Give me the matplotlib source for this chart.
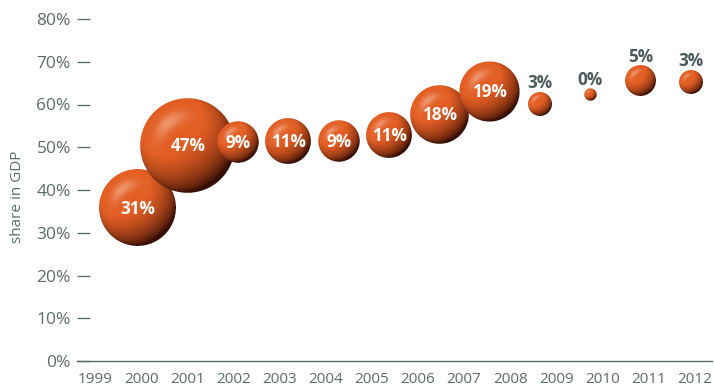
import numpy as np
import matplotlib
matplotlib.use("Agg")
import matplotlib.pyplot as plt
from matplotlib.offsetbox import OffsetImage, AnnotationBbox

# ---- data -------------------------------------------------------------
years = list(range(1999, 2013))                 # category labels on the x axis
growth = [31, 47, 9, 11, 9, 11, 18, 19, 3, 0, 5, 3]          # % shown on each bubble
share = [35.8, 50.5, 51.2, 51.5, 51.5, 52.9, 57.7, 63.1, 60.2, 62.3, 65.5, 65.3]  # share in GDP, %
periods = list(range(len(growth)))               # bubble sequence
yticks = [0, 10, 20, 30, 40, 50, 60, 70, 80]

# ---- style ------------------------------------------------------------
plt.rcParams["font.family"] = ["Open Sans", "DejaVu Sans"]
GREY = "#5d6b6b"
LABEL_DARK = "#4b5a5a"
DPI = 100
PX_PER_SQRT = 6.9          # bubble radius (px) per sqrt(percent)
MIN_VALUE = 0.8            # keeps the 0 % bubble visible


def sphere_image(radius_px, ss=4):
    """RGBA image of a shaded orange sphere with given radius in pixels."""
    n = int(np.ceil(2 * radius_px)) + 2
    m = n * ss
    c = (m - 1) / 2.0
    yy, xx = np.mgrid[0:m, 0:m]
    u = (xx - c) / (radius_px * ss)
    v = (c - yy) / (radius_px * ss)
    rho2 = u ** 2 + v ** 2
    inside = rho2 <= 1.0
    z = np.sqrt(np.clip(1 - rho2, 0, 1))

    light = np.array([-0.45, 0.55, 0.70])
    light = light / np.linalg.norm(light)
    d = u * light[0] + v * light[1] + z * light[2]
    t = np.clip((d + 0.35) / 1.05, 0, 1) ** 0.8

    dark = np.array([0.22, 0.06, 0.02])
    base = np.array([0.89, 0.37, 0.14])
    rgb = dark + (base - dark) * t[..., None]

    # crescent highlight towards the upper left
    rho = np.sqrt(rho2)
    theta = np.degrees(np.arctan2(v, u))
    ang = (theta - 130 + 180) % 360 - 180
    hl = 0.5 * np.exp(-((rho - 0.63) / 0.15) ** 2) * np.exp(-(ang / 36.0) ** 2)
    hl_col = np.array([0.98, 0.80, 0.72])
    rgb = rgb + (hl_col - rgb) * hl[..., None]

    alpha = inside.astype(float)
    img = np.dstack([rgb, alpha])
    img[..., :3] *= alpha[..., None]
    # downsample (premultiplied average)
    img = img.reshape(n, ss, n, ss, 4).mean(axis=(1, 3))
    a = img[..., 3:4]
    img[..., :3] = np.where(a > 0, img[..., :3] / np.maximum(a, 1e-6), 0)
    return np.clip(img, 0, 1)


# ---- figure -----------------------------------------------------------
W, H = 714, 387
fig = plt.figure(figsize=(W / DPI, H / DPI), dpi=DPI)
left_px, right_px, bottom_px, top_px = 77, 712, 361, 19
ax = fig.add_axes([left_px / W, 1 - bottom_px / H,
                   (right_px - left_px) / W, (bottom_px - top_px) / H])

ax.set_ylim(0, 80)
ax.set_xlim(1998.601, 2012.381)
ax.set_xticks(years)
ax.set_xticklabels([str(y) for y in years])
ax.set_yticks(yticks)
ax.set_yticklabels([f"{v}%" for v in yticks])

for s in ("top", "right", "left"):
    ax.spines[s].set_visible(False)
ax.spines["bottom"].set_color(GREY)
ax.spines["bottom"].set_linewidth(1.0)
ax.tick_params(axis="x", length=0, pad=8.0, labelsize=11, labelcolor=GREY)
ax.tick_params(axis="y", direction="in", length=9.4, width=0.95, color=GREY,
               pad=4.5, labelsize=12.5, labelcolor=GREY)

fig.text(18 / W, 1 - 197 / H, "share in GDP", rotation=90, ha="center",
         va="center", color=GREY, fontsize=11)

# bubbles live on their own evenly spaced sequence axis
bx = ax.twiny()
bx.set_xlim(-1.202, 11.417)
bx.set_ylim(0, 80)
bx.axis("off")

for i, (p, g, s) in enumerate(zip(periods, growth, share)):
    r_px = PX_PER_SQRT * np.sqrt(max(g, MIN_VALUE))
    img = sphere_image(r_px)
    ab = AnnotationBbox(OffsetImage(img, zoom=1, dpi_cor=False), (p, s),
                        xycoords="data", frameon=False, pad=0,
                        box_alignment=(0.5, 0.5), zorder=3 + 2 * i,
                        annotation_clip=False)
    bx.add_artist(ab)
    r_pt = r_px * 72 / DPI
    if g >= 9:
        bx.annotate(f"{g}%", (p, s), xytext=(0, -4.2), textcoords="offset points",
                    ha="center", va="baseline", color="white", fontsize=12.3,
                    fontweight="bold", zorder=4 + 2 * i, annotation_clip=False)
    else:
        bx.annotate(f"{g}%", (p, s), xytext=(0, r_pt + 2.6), textcoords="offset points",
                    ha="center", va="baseline", color=LABEL_DARK, fontsize=12.3,
                    fontweight="bold", zorder=4 + 2 * i, annotation_clip=False)

fig.savefig("out.png", dpi=DPI)
